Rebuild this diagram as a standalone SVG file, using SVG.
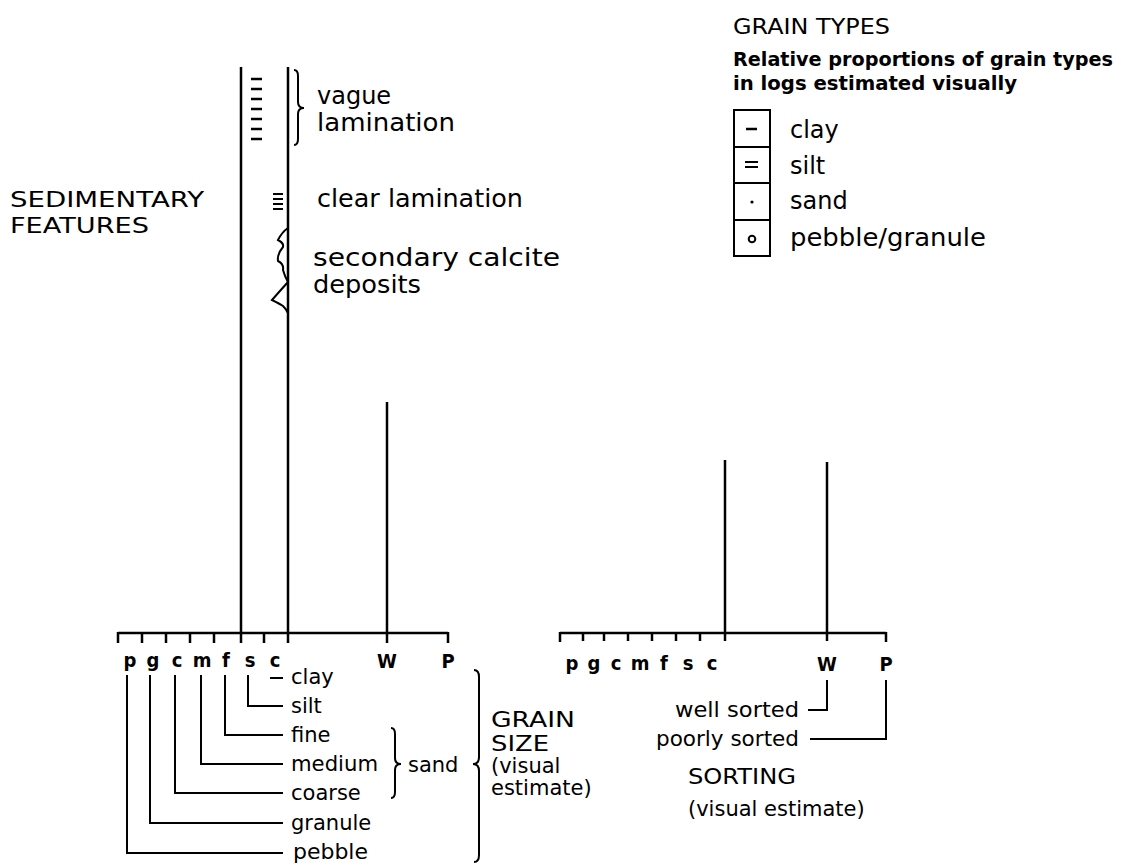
<svg xmlns="http://www.w3.org/2000/svg" width="1125" height="868" viewBox="0 0 1125 868">
<style>
.ln{stroke:#000;stroke-width:2.5;fill:none;stroke-linecap:butt}
.th{stroke:#000;stroke-width:2;fill:none}
.t{font-family:"DejaVu Sans","Liberation Sans",sans-serif;fill:#000}
.h{font-size:22px}
.f{font-size:24px}
.l{font-size:21px}
.b{font-size:19px;font-weight:bold}
.s{font-family:"Liberation Sans Narrow","DejaVu Sans Condensed","Liberation Sans",sans-serif;font-weight:bold;font-size:20px;fill:#000;text-anchor:middle}
</style>
<rect width="1125" height="868" fill="#fff"/>

<g id="sedimentary-features">
  <text class="t h" x="10" y="207" textLength="194" lengthAdjust="spacingAndGlyphs">SEDIMENTARY</text>
  <text class="t h" x="10" y="233" textLength="139" lengthAdjust="spacingAndGlyphs">FEATURES</text>
</g>

<g id="feature-column">
  <line class="ln" x1="241" y1="67" x2="241" y2="634"/>
  <line class="ln" x1="288" y1="67" x2="288" y2="643"/>
</g>

<g id="vague-lamination">
  <g class="ln">
    <line x1="251" y1="79" x2="262" y2="79"/>
    <line x1="251" y1="89" x2="262" y2="89"/>
    <line x1="251" y1="99" x2="262" y2="99"/>
    <line x1="251" y1="109" x2="262" y2="109"/>
    <line x1="251" y1="119" x2="262" y2="119"/>
    <line x1="251" y1="129" x2="262" y2="129"/>
    <line x1="251" y1="139" x2="262" y2="139"/>
  </g>
  <path class="th" d="M294,70 Q298,70 298,76 L298,102 Q298,108 304,108 Q298,108 298,114 L298,139 Q298,145 294,145"/>
  <text class="t f" x="317" y="104">vague</text>
  <text class="t f" x="317" y="131" textLength="138" lengthAdjust="spacingAndGlyphs">lamination</text>
</g>

<g id="clear-lamination">
  <g class="th" stroke-width="1.6">
    <line x1="273" y1="194" x2="283" y2="194"/>
    <line x1="273" y1="199" x2="283" y2="199"/>
    <line x1="273" y1="204" x2="283" y2="204"/>
    <line x1="273" y1="209" x2="283" y2="209"/>
  </g>
  <text class="t f" x="317" y="207" textLength="206" lengthAdjust="spacingAndGlyphs">clear lamination</text>
</g>

<g id="secondary-calcite">
  <path class="th" d="M288,228 Q282,232 278,240 Q284,243 283,247 Q277,254 278,261 Q284,264 283,270 Q285,277 288,282 Q279,292 272,300 Q280,304 283,306 Q286,309 288,313"/>
  <text class="t f" x="313" y="266" textLength="247" lengthAdjust="spacingAndGlyphs">secondary calcite</text>
  <text class="t f" x="313" y="293" textLength="108" lengthAdjust="spacingAndGlyphs">deposits</text>
</g>

<g id="grain-types">
  <text class="t h" x="733" y="34" textLength="157" lengthAdjust="spacingAndGlyphs">GRAIN TYPES</text>
  <text class="t b" x="733" y="66" textLength="380" lengthAdjust="spacingAndGlyphs">Relative proportions of grain types</text>
  <text class="t b" x="733" y="90" textLength="284" lengthAdjust="spacingAndGlyphs">in logs estimated visually</text>
  <rect class="th" x="734" y="110" width="36" height="146"/>
  <line class="th" x1="734" y1="147" x2="770" y2="147"/>
  <line class="th" x1="734" y1="183" x2="770" y2="183"/>
  <line class="th" x1="734" y1="220" x2="770" y2="220"/>
  <line class="ln" x1="746" y1="129" x2="757" y2="129"/>
  <line class="th" x1="745" y1="162" x2="758" y2="162"/>
  <line class="th" x1="745" y1="167" x2="758" y2="167"/>
  <circle cx="752" cy="202" r="1.6" fill="#000"/>
  <circle class="th" cx="752" cy="239" r="3.3"/>
  <text class="t f" x="790" y="138">clay</text>
  <text class="t f" x="790" y="174">silt</text>
  <text class="t f" x="790" y="209">sand</text>
  <text class="t f" x="790" y="246" textLength="196" lengthAdjust="spacingAndGlyphs">pebble/granule</text>
</g>

<g id="grain-size-scale">
  <line class="ln" x1="118" y1="633" x2="448" y2="633"/>
  <g class="ln">
    <line x1="118" y1="632" x2="118" y2="643"/>
    <line x1="142" y1="633" x2="142" y2="643"/>
    <line x1="166" y1="633" x2="166" y2="643"/>
    <line x1="190" y1="633" x2="190" y2="643"/>
    <line x1="214" y1="633" x2="214" y2="643"/>
    <line x1="241" y1="633" x2="241" y2="643"/>
    <line x1="264" y1="633" x2="264" y2="643"/>
    <line x1="448" y1="632" x2="448" y2="643"/>
    <line x1="387" y1="402" x2="387" y2="643"/>
  </g>
  <text class="s" x="130" y="667">p</text>
  <text class="s" x="153" y="667">g</text>
  <text class="s" x="177" y="667">c</text>
  <text class="s" x="202" y="667">m</text>
  <text class="s" x="226" y="667">f</text>
  <text class="s" x="250" y="667">s</text>
  <text class="s" x="275" y="667">c</text>
  <text class="s" x="387" y="668">W</text>
  <text class="s" x="448" y="668">P</text>
</g>

<g id="connectors">
  <g class="th">
    <path d="M270,678 H283"/>
    <path d="M248,675 V706 H283"/>
    <path d="M225,675 V735 H283"/>
    <path d="M201,675 V764 H283"/>
    <path d="M175,675 V793 H283"/>
    <path d="M150,675 V823 H283"/>
    <path d="M127,675 V853 H283"/>
    <path d="M827,680 V710 H808"/>
    <path d="M886,680 V739 H810"/>
  </g>
</g>

<g id="grain-size-labels">
  <text class="t l" x="291" y="684">clay</text>
  <text class="t l" x="291" y="713">silt</text>
  <text class="t l" x="291" y="742">fine</text>
  <text class="t l" x="291" y="771" textLength="87" lengthAdjust="spacingAndGlyphs">medium</text>
  <text class="t l" x="291" y="800">coarse</text>
  <text class="t l" x="291" y="830">granule</text>
  <text class="t l" x="293" y="859" textLength="75" lengthAdjust="spacingAndGlyphs">pebble</text>
</g>

<g id="sand-brace">
  <path class="th" d="M391,728 Q395,728 395,734 L395,758 Q395,764 401,764 Q395,764 395,770 L395,792 Q395,798 391,798"/>
  <text class="t l" x="408" y="772">sand</text>
</g>

<g id="grain-size-brace">
  <path class="th" d="M474,670 Q479,670 479,677 L479,757 Q479,764 473,764 Q479,764 479,771 L479,855 Q479,862 474,862"/>
  <text class="t h" x="491" y="727" textLength="84" lengthAdjust="spacingAndGlyphs">GRAIN</text>
  <text class="t h" x="491" y="751" textLength="58" lengthAdjust="spacingAndGlyphs">SIZE</text>
  <text class="t l" x="491" y="773">(visual</text>
  <text class="t l" x="491" y="795">estimate)</text>
</g>

<g id="sorting-scale">
  <line class="ln" x1="560" y1="633" x2="886" y2="633"/>
  <g class="ln">
    <line x1="560" y1="632" x2="560" y2="642"/>
    <line x1="583" y1="633" x2="583" y2="641"/>
    <line x1="604" y1="633" x2="604" y2="641"/>
    <line x1="628" y1="633" x2="628" y2="641"/>
    <line x1="652" y1="633" x2="652" y2="641"/>
    <line x1="676" y1="633" x2="676" y2="641"/>
    <line x1="700" y1="633" x2="700" y2="641"/>
    <line x1="725" y1="460" x2="725" y2="641"/>
    <line x1="827" y1="462" x2="827" y2="641"/>
    <line x1="886" y1="632" x2="886" y2="642"/>
  </g>
  <text class="s" x="572" y="670">p</text>
  <text class="s" x="594" y="670">g</text>
  <text class="s" x="616" y="670">c</text>
  <text class="s" x="640" y="670">m</text>
  <text class="s" x="664" y="670">f</text>
  <text class="s" x="688" y="670">s</text>
  <text class="s" x="712" y="670">c</text>
  <text class="s" x="827" y="671">W</text>
  <text class="s" x="886" y="671">P</text>
</g>

<g id="sorting-labels">
  <text class="t l" x="799" y="717" text-anchor="end" textLength="124" lengthAdjust="spacingAndGlyphs">well sorted</text>
  <text class="t l" x="799" y="746" text-anchor="end" textLength="143" lengthAdjust="spacingAndGlyphs">poorly sorted</text>
  <text class="t h" x="688" y="784" textLength="108" lengthAdjust="spacingAndGlyphs">SORTING</text>
  <text class="t l" x="688" y="816">(visual estimate)</text>
</g>
</svg>
